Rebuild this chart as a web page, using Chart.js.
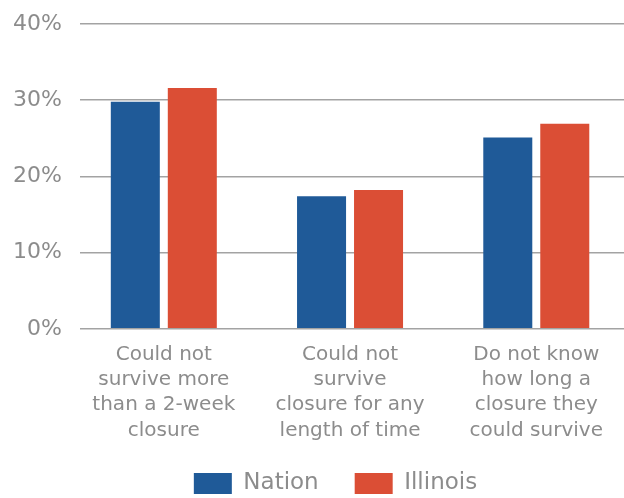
<!DOCTYPE html>
<html>
<head>
<meta charset="utf-8">
<script src="https://cdn.jsdelivr.net/npm/chart.js@4/dist/chart.umd.min.js"></script>
<style>
  html, body { margin: 0; padding: 0; background: #fff; }
  #wrap { width: 624px; height: 498px; position: relative; }
</style>
</head>
<body>
<div id="wrap"><canvas id="grafico"></canvas></div>
<script>
const categorias = [
  ["Could not", "survive more", "than a 2-week", "closure"],
  ["Could not", "survive", "closure for any", "length of time"],
  ["Do not know", "how long a", "closure they", "could survive"],
];
const nation = [29.8, 17.4, 25.1];
const illinois = [31.6, 18.2, 26.9];
const yTicks = [0, 10, 20, 30, 40];

const gris = "#8c8c8c";
Chart.defaults.font.family = "'DejaVu Sans', sans-serif";
Chart.defaults.color = gris;

// bars sit on a linear index axis so the groups can be placed freely
const puntos = (serie) => serie.map((v, i) => ({ x: i, y: v }));

// the legend keeps a small slot in the layout, then gets nudged into place
const moverLeyenda = {
  id: "moverLeyenda",
  afterLayout(chart) {
    const ley = chart.legend;
    ley.left = 47;
    ley.top -= 20;
  },
};

const config = {
  type: "bar",
  data: {
    datasets: [
      {
        label: "Nation",
        data: puntos(nation),
        backgroundColor: "#1f5a98",
        categoryPercentage: 0.612,
        barPercentage: 0.86,
      },
      {
        label: "Illinois",
        data: puntos(illinois),
        backgroundColor: "#db4e35",
        categoryPercentage: 0.612,
        barPercentage: 0.86,
      },
    ],
  },
  options: {
    responsive: true,
    maintainAspectRatio: false,
    animation: false,
    layout: { padding: { top: 24, left: 0, right: 0, bottom: 0 } },
    plugins: {
      tooltip: { enabled: false },
      legend: {
        position: "bottom",
        maxHeight: 42,
        labels: {
          boxWidth: 38,
          boxHeight: 21,
          padding: 36,
          color: gris,
          font: { size: 23 },
        },
      },
    },
    scales: {
      x: {
        type: "linear",
        bounds: "data",
        offset: false,
        min: -0.45,
        max: 2.471,
        grid: { display: false, drawTicks: false },
        border: { display: false },
        afterBuildTicks: (axis) => {
          axis.ticks = categorias.map((c, i) => ({ value: i }));
        },
        ticks: {
          autoSkip: false,
          maxRotation: 0,
          padding: 13,
          color: gris,
          font: { size: 20, lineHeight: 1.265 },
          callback: (value) => categorias[value],
        },
      },
      y: {
        min: yTicks[0],
        max: yTicks[yTicks.length - 1],
        afterFit: (scale) => {
          scale.width = 80;
          scale.paddingTop = 0;
          scale.paddingBottom = 0;
        },
        afterBuildTicks: (axis) => {
          axis.ticks = yTicks.map((v) => ({ value: v }));
        },
        grid: { color: "#a3a3a3", lineWidth: 1.5, drawTicks: false },
        border: { display: false },
        ticks: {
          padding: 18,
          color: gris,
          font: { size: 22 },
          callback: (value) => value + "%",
        },
      },
    },
  },
  plugins: [moverLeyenda],
};

new Chart(document.getElementById("grafico"), config);
</script>
</body>
</html>
